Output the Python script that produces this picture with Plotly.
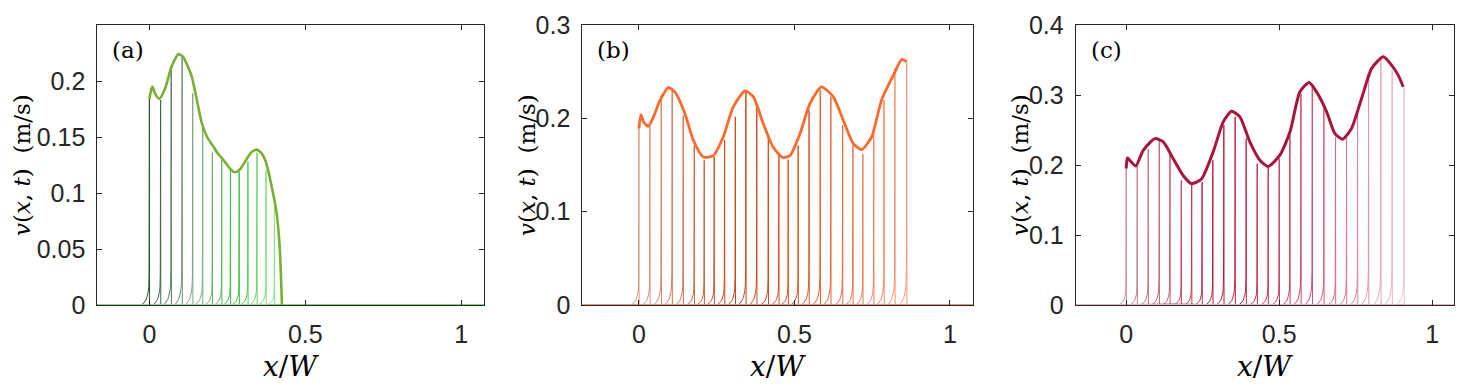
import plotly.graph_objects as go

# ---- data ----
# tail shape of one velocity snapshot, relative to its front (x offset, fraction of front speed)
TAIL_DX = [-0.026, -0.02, -0.015, -0.011, -0.008, -0.0055, -0.0035, -0.002, -0.001, 0.0]
TAIL_FRAC = [0.0, 0.006, 0.014, 0.024, 0.036, 0.05, 0.066, 0.09, 0.15, 1.0]

# panel (a)
FRONT_X_A = [0.0, 0.036, 0.070, 0.105, 0.139, 0.171, 0.202, 0.232, 0.260, 0.288, 0.316, 0.345, 0.374, 0.401]
FRONT_V_A = [0.184, 0.183, 0.210, 0.222, 0.189, 0.158, 0.136, 0.130, 0.122, 0.119, 0.128, 0.136, 0.120, 0.088]
ENV_X_A = [0.0, 0.004, 0.0096, 0.018, 0.032, 0.05, 0.07, 0.085, 0.093, 0.107, 0.12, 0.136, 0.15, 0.168,
           0.185, 0.205, 0.22, 0.237, 0.255, 0.269, 0.28, 0.29, 0.305, 0.317, 0.33, 0.344, 0.358, 0.371,
           0.382, 0.392, 0.400, 0.408, 0.414, 0.419, 0.422, 0.425]
ENV_V_A = [0.184, 0.19, 0.195, 0.189, 0.184, 0.193, 0.212, 0.221, 0.224, 0.222, 0.215, 0.204, 0.186, 0.1625,
           0.150, 0.1416, 0.135, 0.1297, 0.123, 0.119, 0.119, 0.121, 0.127, 0.1327, 0.137, 0.1387, 0.136, 0.1297,
           0.119, 0.106, 0.095, 0.082, 0.066, 0.046, 0.025, 0.0]

# panel (b)
FRONT_X_B = [0.0, 0.0354, 0.0718, 0.107, 0.1425, 0.178, 0.21, 0.242, 0.2755, 0.31, 0.344, 0.379, 0.416,
             0.45, 0.48, 0.512, 0.547, 0.583, 0.617, 0.655, 0.688, 0.72, 0.755, 0.788, 0.823, 0.861]
FRONT_V_B = [0.189, 0.1915, 0.225, 0.231, 0.203, 0.171, 0.155, 0.1586, 0.177, 0.2016, 0.228, 0.213, 0.180,
             0.160, 0.1557, 0.171, 0.209, 0.230, 0.223, 0.1926, 0.171, 0.162, 0.1837, 0.2195, 0.2535, 0.2607]
ENV_X_B = [0.0, 0.0064, 0.015, 0.030, 0.045, 0.0675, 0.094, 0.116, 0.148, 0.175, 0.207, 0.239, 0.271,
           0.303, 0.341, 0.368, 0.40, 0.432, 0.462, 0.4855, 0.518, 0.55, 0.587, 0.625, 0.657, 0.689,
           0.716, 0.748, 0.780, 0.818, 0.845, 0.861]
ENV_V_B = [0.189, 0.204, 0.196, 0.1915, 0.200, 0.219, 0.233, 0.228, 0.205, 0.1765, 0.1586, 0.160, 0.180,
           0.212, 0.2295, 0.223, 0.194, 0.169, 0.158, 0.160, 0.1837, 0.216, 0.2338, 0.223, 0.198, 0.173,
           0.1665, 0.180, 0.2195, 0.2463, 0.263, 0.2607]

# panel (c)
FRONT_X_C = [0.0, 0.036, 0.072, 0.108, 0.143, 0.180, 0.214, 0.248, 0.283, 0.319, 0.356, 0.392, 0.428,
             0.464, 0.5, 0.535, 0.571, 0.608, 0.646, 0.684, 0.72, 0.756, 0.792, 0.832, 0.869, 0.908]
FRONT_V_C = [0.195, 0.1995, 0.223, 0.235, 0.2186, 0.178, 0.1733, 0.1757, 0.2067, 0.2568, 0.2687, 0.2377,
             0.2019, 0.197, 0.209, 0.2425, 0.302, 0.3117, 0.2807, 0.240, 0.2387, 0.2807, 0.3308, 0.352,
             0.3356, 0.3117]
ENV_X_C = [0.0, 0.004, 0.017, 0.0316, 0.0556, 0.0937, 0.121, 0.1536, 0.186, 0.2135, 0.246, 0.284, 0.317,
           0.344, 0.3715, 0.404, 0.437, 0.464, 0.502, 0.535, 0.5675, 0.598, 0.622, 0.655, 0.682, 0.707,
           0.736, 0.769, 0.802, 0.840, 0.867, 0.889, 0.905]
ENV_V_C = [0.195, 0.21, 0.204, 0.1986, 0.221, 0.2377, 0.233, 0.209, 0.185, 0.1733, 0.180, 0.2186, 0.2616,
           0.2768, 0.2687, 0.233, 0.2067, 0.198, 0.214, 0.247, 0.3045, 0.318, 0.3045, 0.276, 0.2449, 0.2368,
           0.252, 0.295, 0.338, 0.3547, 0.3427, 0.328, 0.3117]

X_TICKS = [0, 0.5, 1]
X_TICK_TEXT = ["0", "0.5", "1"]
Y_TICKS_A = [0, 0.05, 0.1, 0.15, 0.2]
Y_TICK_TEXT_A = ["0", "0.05", "0.1", "0.15", "0.2"]
Y_TICKS_B = [0, 0.1, 0.2, 0.3]
Y_TICK_TEXT_B = ["0", "0.1", "0.2", "0.3"]
Y_TICKS_C = [0, 0.1, 0.2, 0.3, 0.4]
Y_TICK_TEXT_C = ["0", "0.1", "0.2", "0.3", "0.4"]
PANEL_LABELS = ["(a)", "(b)", "(c)"]


def hex2rgb(h):
    h = h.lstrip("#")
    return [int(h[i:i + 2], 16) for i in (0, 2, 4)]


def blend(anchors, n):
    # spread n colours along a list of anchor colours
    rgb = [hex2rgb(a) for a in anchors]
    out = []
    for i in range(n):
        t = i / max(n - 1, 1) * (len(rgb) - 1)
        k = min(int(t), len(rgb) - 2)
        f = t - k
        c = [round(rgb[k][j] + (rgb[k + 1][j] - rgb[k][j]) * f) for j in range(3)]
        out.append("rgb(%d,%d,%d)" % tuple(c))
    return out


panels = [
    dict(fx=FRONT_X_A, fv=FRONT_V_A, ex=ENV_X_A, ev=ENV_V_A, env="#7ab031", ew=2.6,
         shades=["#2b4f35", "#8aa98e", "#38c038", "#8fe48f"],
         xr=[-0.167, 1.073], yr=[0, 0.25], yt=Y_TICKS_A, ytt=Y_TICK_TEXT_A,
         dom=[97.3, 484.0], ytitle=22),
    dict(fx=FRONT_X_B, fv=FRONT_V_B, ex=ENV_X_B, ev=ENV_V_B, env="#ff6a2b", ew=2.8,
         shades=["#d99a80", "#c4461a", "#e2582a", "#f29a78"],
         xr=[-0.182, 1.075], yr=[0, 0.3], yt=Y_TICKS_B, ytt=Y_TICK_TEXT_B,
         dom=[582.3, 973.3], ytitle=527),
    dict(fx=FRONT_X_C, fv=FRONT_V_C, ex=ENV_X_C, ev=ENV_V_C, env="#a8143a", ew=3.0,
         shades=["#c8909a", "#b81a3a", "#d0486a", "#eac4cc"],
         xr=[-0.165, 1.072], yr=[0, 0.4], yt=Y_TICKS_C, ytt=Y_TICK_TEXT_C,
         dom=[1075.7, 1454.3], ytitle=1020),
]

# the page body has an 8px margin, so the figure starts 8px in from the window corner
PAGE_W, PAGE_H, OFF = 1474, 387, 8
W, H = PAGE_W - OFF, PAGE_H - OFF


def fx(px):
    return (px - OFF) / W


def fy(py):
    return 1 - (py - OFF) / H


fig = go.Figure()
annotations = []
for i, p in enumerate(panels):
    xa = "x" if i == 0 else "x%d" % (i + 1)
    ya = "y" if i == 0 else "y%d" % (i + 1)
    cols = blend(p["shades"], len(p["fx"]))
    for xf, vf, c in zip(p["fx"], p["fv"], cols):
        xs = [-0.3] + [xf + d for d in TAIL_DX] + [xf + 0.0006, 1.2]
        ys = [0.0] + [vf * f for f in TAIL_FRAC] + [0.0, 0.0]
        fig.add_trace(go.Scatter(x=xs, y=ys, mode="lines", xaxis=xa, yaxis=ya,
                                 line=dict(color=c, width=1), hoverinfo="skip", showlegend=False))
    fig.add_trace(go.Scatter(x=p["ex"], y=p["ev"], mode="lines", xaxis=xa, yaxis=ya,
                             line=dict(color=p["env"], width=p["ew"], shape="spline", smoothing=0.6),
                             showlegend=False))

    axis_common = dict(showline=True, linecolor="#262626", linewidth=1, mirror="ticks",
                       ticks="inside", ticklen=5, tickcolor="#262626", showgrid=False,
                       zeroline=False, automargin=False,
                       tickfont=dict(family="Liberation Sans, Arial", size=25, color="#262626"))
    x0, x1 = p["dom"]
    key = "" if i == 0 else str(i + 1)
    fig.update_layout(**{
        "xaxis" + key: dict(domain=[fx(x0), fx(x1)], range=p["xr"], anchor=ya,
                            tickvals=X_TICKS, ticktext=X_TICK_TEXT, ticklabelstandoff=7, **axis_common),
        "yaxis" + key: dict(domain=[fy(305), fy(25)], range=p["yr"], anchor=xa,
                            tickvals=p["yt"], ticktext=p["ytt"], ticklabelstandoff=6, **axis_common),
    })
    annotations.append(dict(text="<i>x</i>/<i>W</i>", xref="paper", yref="paper",
                            x=fx((x0 + x1) / 2), y=fy(366), xanchor="center", yanchor="middle",
                            showarrow=False, font=dict(family="DejaVu Serif", size=28, color="black")))
    annotations.append(dict(text="<i>v</i>(<i>x</i>, <i>t</i>)  (m/s)", xref="paper", yref="paper",
                            x=fx(p["ytitle"]), y=fy(165), xanchor="center", yanchor="middle",
                            textangle=-90, showarrow=False,
                            font=dict(family="DejaVu Serif", size=23, color="black")))
    annotations.append(dict(text=PANEL_LABELS[i], xref="paper", yref="paper",
                            x=fx(x0 + 31), y=fy(50), xanchor="center", yanchor="middle",
                            showarrow=False, font=dict(family="DejaVu Serif", size=23, color="black")))

fig.update_layout(width=W, height=H, margin=dict(l=0, r=0, t=0, b=0, pad=0, autoexpand=False),
                  plot_bgcolor="white", paper_bgcolor="white", annotations=annotations)
fig.write_html("out.html")
